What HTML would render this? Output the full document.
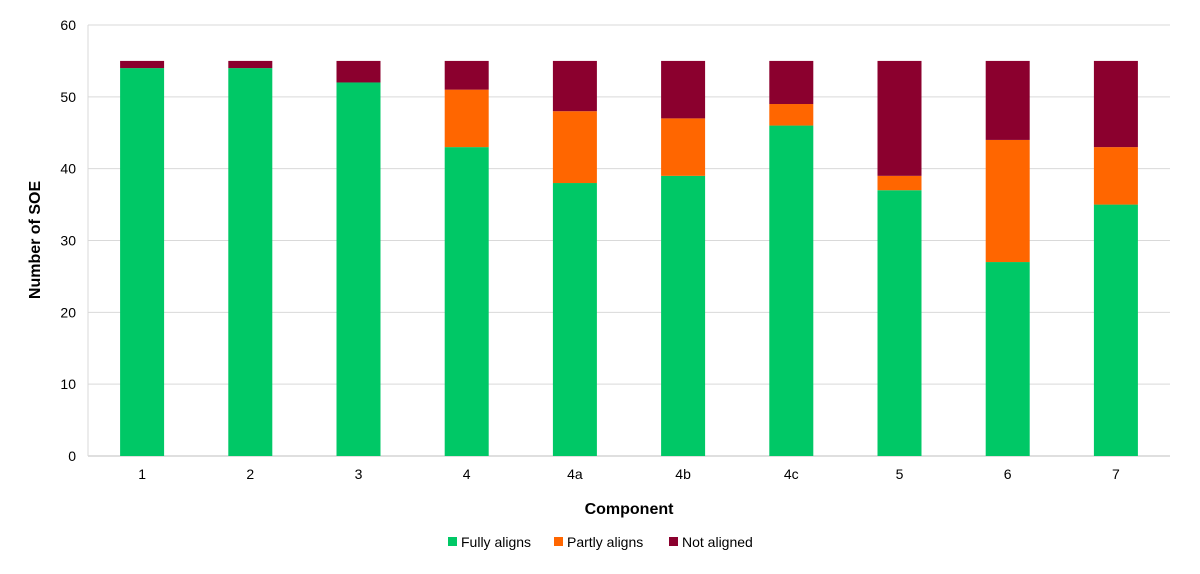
<!DOCTYPE html>
<html><head><meta charset="utf-8"><style>
body{margin:0;background:#fff;font-family:"Liberation Sans",Arial,sans-serif;}
svg text{font-family:"Liberation Sans",Arial,sans-serif;}
</style></head><body>
<svg id="chart" width="1200" height="569" viewBox="0 0 1200 569" xmlns="http://www.w3.org/2000/svg">
<g id="grid"></g>
<g id="bars"></g>
<g id="axes"></g>
<text x="40" y="240" transform="rotate(-90 40 240)" text-anchor="middle" font-size="16" font-weight="bold" fill="#000">Number of SOE</text>
<text x="629" y="514" text-anchor="middle" font-size="16" font-weight="bold" fill="#000">Component</text>
<g>
<g><rect x="448" y="537" width="9" height="9" fill="#00C866"/><text x="461" y="547" font-size="14">Fully aligns</text></g>
<g><rect x="554" y="537" width="9" height="9" fill="#FF6600"/><text x="567" y="547" font-size="14">Partly aligns</text></g>
<g><rect x="669" y="537" width="9" height="9" fill="#8B002E"/><text x="682" y="547" font-size="14">Not aligned</text></g>
</g>
</svg>
<script>
const categories=["1","2","3","4","4a","4b","4c","5","6","7"];
const fully=[54,54,52,43,38,39,46,37,27,35];
const partly=[0,0,0,8,10,8,3,2,17,8];
const notAligned=[1,1,3,4,7,8,6,16,11,12];
const yTicks=[0,10,20,30,40,50,60];
const NS="http://www.w3.org/2000/svg";
const x0=88,x1=1170,yTop=25,yBot=456,yMax=60;
const band=(x1-x0)/categories.length,bw=44;
const y=v=>yBot-(v/yMax)*(yBot-yTop);
const xc=i=>x0+band*(i+0.5);
function mk(t,a,p){const e=document.createElementNS(NS,t);for(const k in a)e.setAttribute(k,a[k]);p.appendChild(e);return e;}
const grid=document.getElementById('grid'),bars=document.getElementById('bars'),axes=document.getElementById('axes');
yTicks.forEach(v=>{
 const l=mk('line',{x1:x0,x2:x1,y1:y(v),y2:y(v),stroke:v===0?'#bfbfbf':'#d9d9d9','stroke-width':1},grid);
 
 
 const t=mk('text',{x:x0-12,y:y(v)+5,'text-anchor':'end','font-size':14,fill:'#000'},axes);
 t.textContent=v;
 
 
});
const vl=mk('line',{x1:x0,x2:x0,y1:yTop,y2:yBot,stroke:'#d9d9d9'},grid);


const series=[[fully,'#00C866','fully'],[partly,'#FF6600','partly'],[notAligned,'#8B002E','not']];
categories.forEach((c,i)=>{
 let base=0;
 series.forEach(([arr,col,nm])=>{
  const v=arr[i];
  if(v>0){const r=mk('rect',{x:xc(i)-bw/2,y:y(base+v),width:bw,height:y(base)-y(base+v),fill:col},bars);
  
  }
  base+=v;
 });
 const t=mk('text',{x:xc(i),y:yBot+23,'text-anchor':'middle','font-size':14,fill:'#000'},axes);
 t.textContent=c;
 
 
});
</script>
</body></html>
